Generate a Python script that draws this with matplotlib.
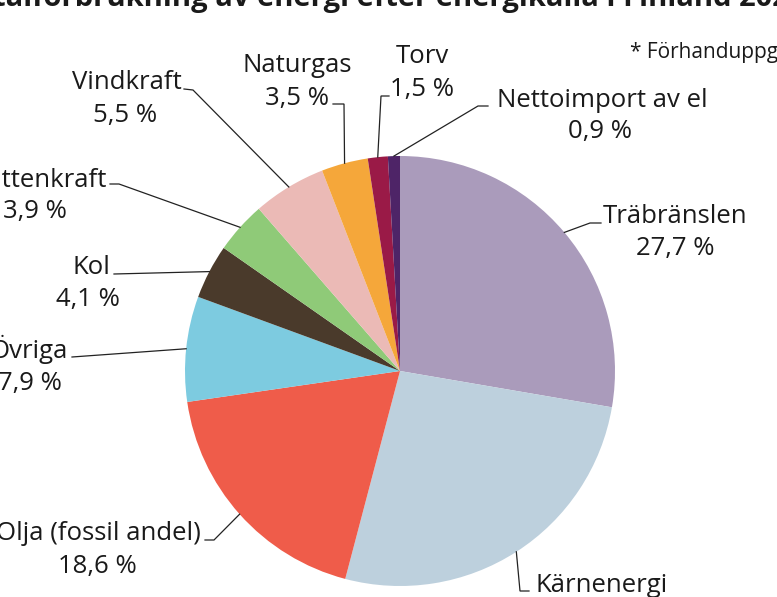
import matplotlib
matplotlib.use('Agg')
import matplotlib.pyplot as plt
import numpy as np

# Totalförbrukning av energi efter energikälla i Finland (förhandsuppgifter)
labels = ['Träbränslen', 'Kärnenergi', 'Olja (fossil andel)', 'Övriga', 'Kol',
          'Vattenkraft', 'Vindkraft', 'Naturgas', 'Torv', 'Nettoimport av el']
values = [27.7, 26.4, 18.6, 7.9, 4.1, 3.9, 5.5, 3.5, 1.5, 0.9]
colors = ['#aa9bbb', '#bdd0dd', '#ef5c4a', '#7dcbe0', '#4a3a2b',
          '#8fca78', '#ebbab6', '#f5a73a', '#9a1a47', '#4e2467']

W, H = 777, 597
plt.rcParams['font.family'] = ['Open Sans', 'DejaVu Sans']
TXT = '#1a1a1a'

fig = plt.figure(figsize=(W / 100, H / 100), dpi=100)
ax = fig.add_axes([0, 0, 1, 1])

cx, cy, r = 400, H - 371, 215
wedges, _ = ax.pie(values, colors=colors, startangle=90, counterclock=False,
                   center=(cx, cy), radius=r,
                   wedgeprops=dict(linewidth=0))
ax.set_xlim(0, W)
ax.set_ylim(0, H)
ax.axis('off')


def Y(y):
    return H - y


# label layout in pixel coords (top origin):
# name anchor, name align, value center, line start, elbow
layout = {
    'Träbränslen':        ((675, 223), 'center', (675, 255), (601, 223), (590, 223)),
    'Kärnenergi':         ((535, 592), 'left',   (600, 624), (529, 591), (520, 591)),
    'Olja (fossil andel)': ((201, 540), 'right', (97, 573),  (205, 540), (214, 540)),
    'Övriga':             ((68, 358),  'right',  (30, 390),  (72, 357),  (72, 357)),
    'Kol':                ((110, 274), 'right',  (88, 306),  (114, 274), (114, 274)),
    'Vattenkraft':        ((106, 187), 'right',  (35, 218),  (110, 184), (119, 184)),
    'Vindkraft':          ((127, 89),  'center', (125, 122), (184, 89),  (193, 90)),
    'Naturgas':           ((297, 72),  'center', (297, 105), (333, 104), (344, 104)),
    'Torv':               ((422, 63),  'center', (422, 96),  (389, 96),  (381, 96)),
    'Nettoimport av el':  ((602, 107), 'center', (600, 138), (488, 106), (478, 106)),
}

for w, lab, val in zip(wedges, labels, values):
    mid = np.deg2rad((w.theta1 + w.theta2) / 2)
    ex, ey = cx + r * np.cos(mid), cy + r * np.sin(mid)
    (nx, ny), ha, (vx, vy), (sx, sy), (bx, by) = layout[lab]
    ax.text(nx, Y(ny), lab, ha=ha, va='baseline', fontsize=18.5, color=TXT)
    ax.text(vx, Y(vy), f'{val:.1f} %'.replace('.', ','), ha='center',
            va='baseline', fontsize=18.5, color=TXT)
    ax.plot([sx, bx, ex], [Y(sy), Y(by), ey], color='#222222', lw=0.9,
            solid_joinstyle='miter')

fig.text(630 / W, 1 - 58 / H, '* Förhanduppgifter', ha='left', va='baseline',
         fontsize=15, color=TXT)
fig.text(-40 / W, 1 - 6 / H,
         'Totalförbrukning av energi efter energikälla i Finland 2023*',
         ha='left', va='baseline', fontsize=21, fontweight='bold', color=TXT)

fig.savefig('out.png', dpi=100)
